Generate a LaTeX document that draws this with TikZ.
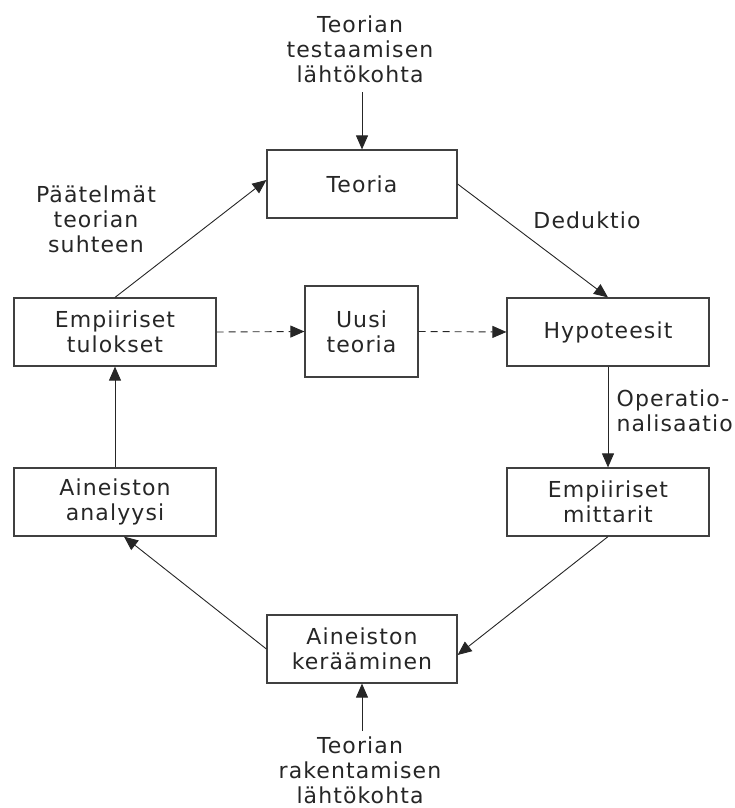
\documentclass[tikz,border=0pt]{standalone}
\usepackage{fontspec}
\usepackage{tikz}
\usetikzlibrary{arrows.meta}
\newfontfamily\diafont[LetterSpace=5]{DejaVu Sans}

\begin{document}
\begin{tikzpicture}[x=1pt, y=-1pt,
    box/.style={draw=black!75, line width=1.2pt, minimum width=202pt, minimum height=68pt, align=center, inner sep=0pt},
    lbl/.style={align=center, inner sep=2pt},
    conn/.style={black!85, line width=0.9pt, -{Triangle[length=14pt, width=12pt]}},
    every node/.style={font=\diafont\fontsize{22}{25}\selectfont, text=black!85}]
    \useasboundingbox (0, 0) rectangle (734, 808);

    % Boxes
    \node[box, minimum width=190pt] (teoria) at (362, 184) {Teoria};
    \node[box] (hyp) at (608, 332) {Hypoteesit};
    \node[box] (tulokset) at (115, 332) {Empiiriset\\tulokset};
    \node[box, minimum width=113pt, minimum height=91pt] (uusi) at (361.5, 331.5) {Uusi\\teoria};
    \node[box] (mittarit) at (608, 502) {Empiiriset\\mittarit};
    \node[box] (analyysi) at (115, 502) {Aineiston\\analyysi};
    \node[box, minimum width=190pt] (keraa) at (362, 649) {Aineiston\\kerääminen};

    % Labels
    \node[lbl] (testaus) at (360, 49) {Teorian\\testaamisen\\lähtökohta};
    \node[lbl] (rakennus) at (360, 770) {Teorian\\rakentamisen\\lähtökohta};
    \node[lbl] (paatelmat) at (96, 219) {Päätelmät\\teorian\\suhteen};
    \node[lbl] (deduktio) at (587, 220) {Deduktio};
    \node[lbl, align=left, anchor=east, inner sep=0pt] (oper) at (733, 411) {Operatio-\\nalisaatio};

    % Start points
    \coordinate (testausend) at (362, 92);
    \coordinate (rakennusend) at (362, 731);

    % Cycle
    \draw[conn] (testausend) -- (teoria.north);
    \draw[conn] (teoria.east) -- (hyp.north);
    \draw[conn] (hyp.south) -- (mittarit.north);
    \draw[conn] (mittarit.south) -- ([yshift=-6pt]keraa.east);
    \draw[conn] (rakennusend) -- (keraa.south);
    \draw[conn] (keraa.west) -- ([xshift=9pt]analyysi.south);
    \draw[conn] (analyysi.north) -- (tulokset.south);
    \draw[conn] (tulokset.north) -- ([yshift=4pt]teoria.west);

    % New theory
    \draw[conn, dash pattern=on 7pt off 5pt] (tulokset.east) -- (uusi.west);
    \draw[conn, dash pattern=on 7pt off 5pt] (uusi.east) -- (hyp.west);
\end{tikzpicture}
\end{document}
